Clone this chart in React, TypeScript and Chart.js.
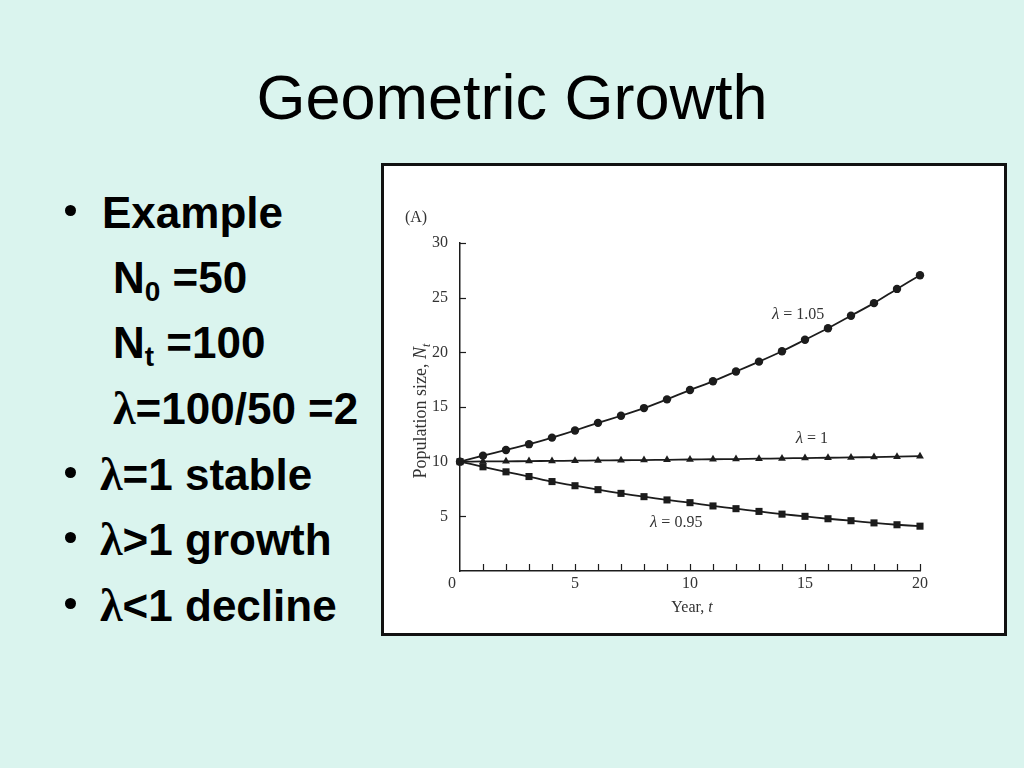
import React, { useEffect, useRef } from "react";
import { Chart, registerables } from "chart.js";

Chart.register(...registerables);

// ---------- data ----------
const years = [0, 1, 2, 3, 4, 5, 6, 7, 8, 9, 10, 11, 12, 13, 14, 15, 16, 17, 18, 19, 20];
const growthSeries = [10, 10.55, 11.07, 11.6, 12.2, 12.85, 13.55, 14.2, 14.9, 15.7, 16.55, 17.35, 18.25, 19.15, 20.1, 21.15, 22.2, 23.35, 24.5, 25.8, 27.05];
const stableSeries = [10, 10.02, 10.03, 10.05, 10.07, 10.09, 10.11, 10.13, 10.15, 10.17, 10.2, 10.22, 10.24, 10.27, 10.3, 10.33, 10.36, 10.39, 10.42, 10.46, 10.5];
const declineSeries = [10, 9.53, 9.07, 8.64, 8.18, 7.8, 7.44, 7.1, 6.8, 6.5, 6.25, 5.95, 5.7, 5.45, 5.2, 5.0, 4.78, 4.6, 4.4, 4.23, 4.1];
const lambdaValues = ["1.05", "1", "0.95"];
const labelAnchorX = [14.7, 15.3, 9.4];
const labelAnchorY = [23.5, 12.2, 4.5];
const yTickValues = [5, 10, 15, 20, 25, 30];
const xLabelValues = [0, 5, 10, 15, 20];

const SERIF = '"Liberation Serif", "Times New Roman", serif';
const SANS = '"Liberation Sans", Arial, Helvetica, sans-serif';
const INK = "#1c1c1c";
const TXT = "#333333";
const BG = "#daf4ee";

type Run = { text: string; font: string; dy?: number; w?: number };

function drawRuns(ctx: CanvasRenderingContext2D, runs: Run[], cx: number, cy: number) {
  let total = 0;
  for (const r of runs) {
    ctx.font = r.font;
    r.w = ctx.measureText(r.text).width;
    total += r.w;
  }
  let x = cx - total / 2;
  ctx.textAlign = "left";
  ctx.textBaseline = "alphabetic";
  for (const r of runs) {
    ctx.font = r.font;
    ctx.fillText(r.text, x, cy + (r.dy || 0));
    x += r.w || 0;
  }
}

const overlayPlugin = {
  id: "overlay",
  afterDraw(chart: any) {
    const { ctx, chartArea, scales } = chart;
    const xs = scales.x;
    const ys = scales.y;
    ctx.save();
    // inner tick marks
    ctx.strokeStyle = INK;
    ctx.lineWidth = 1.2;
    for (const v of yTickValues) {
      const py = Math.round(ys.getPixelForValue(v)) + 0.5;
      ctx.beginPath();
      ctx.moveTo(chartArea.left, py);
      ctx.lineTo(chartArea.left + 6, py);
      ctx.stroke();
    }
    for (const v of years) {
      if (v === 0) continue;
      const px = Math.round(xs.getPixelForValue(v)) + 0.5;
      ctx.beginPath();
      ctx.moveTo(px, chartArea.bottom);
      ctx.lineTo(px, chartArea.bottom - 7);
      ctx.stroke();
    }
    ctx.fillStyle = TXT;
    // origin label "0"
    ctx.font = `16px ${SERIF}`;
    ctx.textAlign = "center";
    ctx.textBaseline = "middle";
    ctx.fillText(String(xLabelValues[0]), xs.getPixelForValue(0) - 8, chartArea.bottom + 13);
    // panel label
    ctx.font = `16px ${SERIF}`;
    ctx.fillText("(A)", 32, 52);
    // x axis title
    drawRuns(
      ctx,
      [
        { text: "Year, ", font: `16px ${SERIF}` },
        { text: "t", font: `italic 16px ${SERIF}` },
      ],
      (chartArea.left + chartArea.right) / 2 + 2,
      446
    );
    // y axis title (rotated)
    ctx.save();
    ctx.translate(42, (chartArea.top + chartArea.bottom) / 2 + 4);
    ctx.rotate(-Math.PI / 2);
    drawRuns(
      ctx,
      [
        { text: "Population size, ", font: `18px ${SERIF}` },
        { text: "N", font: `italic 18px ${SERIF}` },
        { text: "t", font: `italic 12px ${SERIF}`, dy: 4 },
      ],
      0,
      0
    );
    ctx.restore();
    // curve labels
    for (let i = 0; i < lambdaValues.length; i++) {
      const px = xs.getPixelForValue(labelAnchorX[i]);
      const py = ys.getPixelForValue(labelAnchorY[i]);
      drawRuns(
        ctx,
        [
          { text: "λ", font: `italic 17px ${SERIF}` },
          { text: " = " + lambdaValues[i], font: `16px ${SERIF}` },
        ],
        px,
        py + 5
      );
    }
    ctx.restore();
  },
};

function ChartBox() {
  const ref = useRef<HTMLCanvasElement | null>(null);
  useEffect(() => {
    if (!ref.current) return;
    const mk = (vals: number[], style: string, r: number) => ({
      data: years.map((t, i) => ({ x: t, y: vals[i] })),
      borderColor: INK,
      backgroundColor: INK,
      borderWidth: 1.8,
      pointStyle: style,
      pointRadius: r,
      pointBorderWidth: 0,
      pointBackgroundColor: INK,
      tension: 0.2,
      fill: false,
      clip: false,
    });
    const chart = new Chart(ref.current, {
      type: "line",
      data: {
        datasets: [
          mk(growthSeries, "circle", 4.2),
          mk(stableSeries, "triangle", 4.5),
          mk(declineSeries, "rect", 5),
        ] as any,
      },
      options: {
        animation: false,
        responsive: false,
        events: [],
        layout: { padding: { left: 16, right: 84, top: 77, bottom: 17 } },
        plugins: { legend: { display: false }, tooltip: { enabled: false } },
        scales: {
          x: {
            type: "linear",
            min: 0,
            max: 20,
            afterFit: (s: any) => {
              s.height = 45;
            },
            grid: { display: false, drawTicks: false },
            border: { display: true, color: INK, width: 1.5 },
            ticks: {
              stepSize: 1,
              autoSkip: false,
              maxRotation: 0,
              padding: 3,
              color: TXT,
              font: { family: SERIF, size: 16 },
              callback: (v: any) => (v !== 0 && xLabelValues.includes(v) ? String(v) : ""),
            },
          },
          y: {
            type: "linear",
            min: 0,
            max: 30,
            afterFit: (s: any) => {
              s.width = 60;
            },
            grid: { display: false, drawTicks: false },
            border: { display: true, color: INK, width: 1.5 },
            ticks: {
              stepSize: 5,
              padding: 12,
              color: TXT,
              font: { family: SERIF, size: 16 },
              callback: (v: any) => (yTickValues.includes(v) ? String(v) : ""),
            },
          },
        },
      } as any,
      plugins: [overlayPlugin],
    });
    return () => chart.destroy();
  }, []);
  return <canvas ref={ref} width={620} height={467} style={{ display: "block", width: 620, height: 467 }} />;
}

const FS = 44;
function TextLine({ baseline, left, children }: { baseline: number; left: number; children: React.ReactNode }) {
  return (
    <div
      style={{
        position: "absolute",
        left,
        top: baseline - 37,
        fontFamily: SANS,
        fontWeight: "bold",
        fontSize: FS,
        lineHeight: `${FS}px`,
        whiteSpace: "nowrap",
        color: "#000",
      }}
    >
      {children}
    </div>
  );
}

function Bullet({ baseline }: { baseline: number }) {
  return (
    <div
      style={{
        position: "absolute",
        left: 65,
        top: baseline - 23,
        width: 11,
        height: 11,
        borderRadius: "50%",
        background: "#000",
      }}
    />
  );
}

const Lam = () => <span style={{ fontFamily: SERIF, fontWeight: "bold", fontSize: 46 }}>λ</span>;
const Sub = ({ c }: { c: string }) => (
  <span style={{ fontSize: 28, position: "relative", top: 8 }}>{c}</span>
);

export default function App() {
  return (
    <div style={{ position: "fixed", left: 0, top: 0, width: 1024, height: 768, background: BG, overflow: "hidden" }}>
      <div
        style={{
          position: "absolute",
          left: 0,
          width: 1024,
          top: 66,
          textAlign: "center",
          fontFamily: SANS,
          fontSize: 63,
          lineHeight: "62px",
          color: "#000",
        }}
      >
        Geometric Growth
      </div>

      <Bullet baseline={228} />
      <TextLine baseline={228} left={102}>Example</TextLine>
      <TextLine baseline={293} left={113}>
        N<Sub c="0" /> =50
      </TextLine>
      <TextLine baseline={358} left={113}>
        N<Sub c="t" /> =100
      </TextLine>
      <TextLine baseline={424} left={113}>
        <Lam />=100/50 =2
      </TextLine>
      <Bullet baseline={490} />
      <TextLine baseline={490} left={100}>
        <Lam />=1 stable
      </TextLine>
      <Bullet baseline={555} />
      <TextLine baseline={555} left={100}>
        <Lam />&gt;1 growth
      </TextLine>
      <Bullet baseline={621} />
      <TextLine baseline={621} left={100}>
        <Lam />&lt;1 decline
      </TextLine>

      <div
        style={{
          position: "absolute",
          left: 381,
          top: 163,
          width: 620,
          height: 467,
          border: "3px solid #111",
          background: "#fff",
        }}
      >
        <ChartBox />
      </div>
    </div>
  );
}
